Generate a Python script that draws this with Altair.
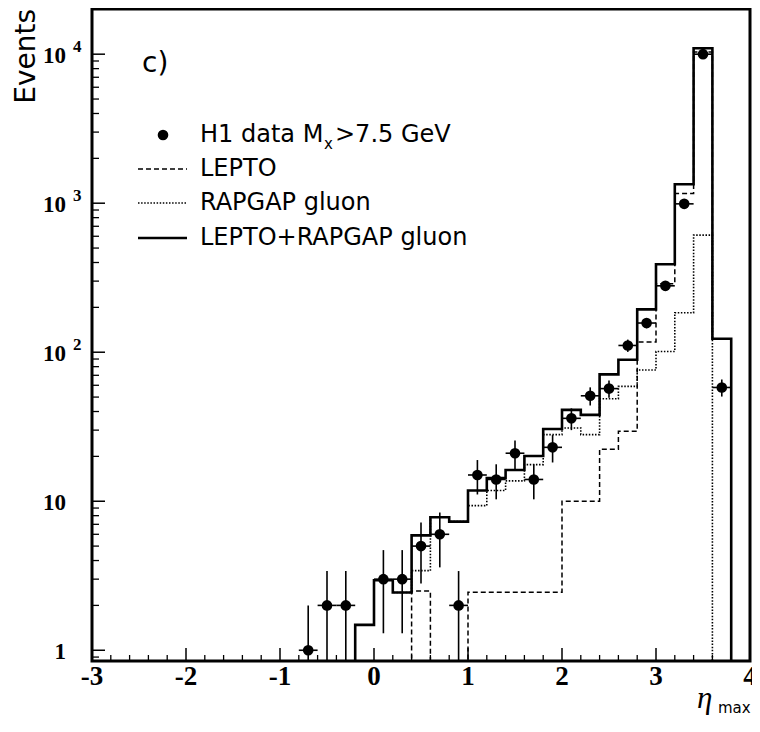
import altair as alt
import pandas as pd

# ---------------- data ----------------
bin_lo = [-0.4, -0.2, 0.0, 0.2, 0.4, 0.6, 0.8, 1.0, 1.2, 1.4, 1.6,
          1.8, 2.0, 2.2, 2.4, 2.6, 2.8, 3.0, 3.2, 3.4, 3.6, 3.8]
bin_width = 0.2

# LEPTO + RAPGAP gluon (solid)
lepto_rapgap = [0, 1.48, 2.95, 2.44, 5.9, 7.8, 7.3, 11.8, 14.3, 16.2, 20.1,
                30.5, 41, 38, 71, 89, 194, 389, 1340, 10960, 123, 0]
# LEPTO (dashed)
lepto = [0, 0, 0, 0, 2.5, 0, 0, 2.45, 2.45, 2.45, 2.45,
         2.45, 10, 10, 22.3, 29.5, 117, 288, 1160, 10350, 123, 0]
# RAPGAP gluon (dotted)
rapgap = [0, 1.48, 2.95, 2.44, 3.42, 7.8, 7.3, 9.35, 11.8, 13.7, 17.6,
          28, 31, 28, 48.7, 59, 76, 101, 184, 611, 0, 0]

# H1 data
data_x = [-0.7, -0.5, -0.3, 0.1, 0.3, 0.5, 0.7, 0.9, 1.1, 1.3, 1.5,
          1.7, 1.9, 2.1, 2.3, 2.5, 2.7, 2.9, 3.1, 3.3, 3.5, 3.7]
data_y = [1, 2, 2, 3, 3, 5, 6, 2, 15, 14, 21,
          14, 23, 36, 51, 57, 111, 157, 279, 990, 10000, 58]
data_err = [1.0, 1.4, 1.4, 1.7, 1.7, 2.2, 2.4, 1.4, 3.9, 3.7, 4.6,
            3.7, 4.8, 6.0, 7.1, 7.5, 10.5, 12.5, 16.7, 31.5, 100, 7.6]

legend_labels = ["H1 data M", "x", ">7.5 GeV", "LEPTO", "RAPGAP gluon", "LEPTO+RAPGAP gluon"]
x_tick_values = [-3, -2, -1, 0, 1, 2, 3, 4]
x_tick_labels = ["-3", "-2", "-1", "0", "1", "2", "3", "4"]
y_tick_values = [1, 10, 100, 1000, 10000]
y_tick_base = ["1", "10", "10", "10", "10"]
y_tick_exp = ["", "", "2", "3", "4"]

# ---------------- layout ----------------
W, H = 658, 652
FLOOR = 0.1
xs = alt.Scale(domain=[-3, 4], nice=False, zero=False)
ys = alt.Scale(type="log", domain=[0.847, 20100], nice=False)

SANS = "DejaVu Sans"
SERIF = "Liberation Serif"


def steps(values):
    rows = []
    o = 0
    for lo, v in zip(bin_lo, values):
        vv = v if v > 0 else FLOOR
        rows.append({"x": lo, "y": vv, "o": o}); o += 1
        rows.append({"x": round(lo + bin_width, 3), "y": vv, "o": o}); o += 1
    return pd.DataFrame(rows)


def hist(values, **style):
    return alt.Chart(steps(values)).mark_line(
        color="black", clip=True, interpolate="linear", strokeCap="butt", strokeJoin="miter", **style
    ).encode(
        x=alt.X("x:Q", scale=xs, axis=None),
        y=alt.Y("y:Q", scale=ys, axis=None),
        order=alt.Order("o:Q"),
    )


dotted = hist(rapgap, strokeWidth=1.6, strokeDash=[1.5, 1.6])
dashed = hist(lepto, strokeWidth=1.5, strokeDash=[5, 3])
solid = hist(lepto_rapgap, strokeWidth=2.6)

pts_df = pd.DataFrame({
    "x": data_x,
    "y": data_y,
    "ylo": [max(y - e, FLOOR) for y, e in zip(data_y, data_err)],
    "yhi": [y + e for y, e in zip(data_y, data_err)],
    "xlo": [x - bin_width / 2 for x in data_x],
    "xhi": [x + bin_width / 2 for x in data_x],
})
vbar = alt.Chart(pts_df).mark_rule(color="black", strokeWidth=1.6, clip=True).encode(
    x=alt.X("x:Q", scale=xs, axis=None),
    y=alt.Y("ylo:Q", scale=ys, axis=None),
    y2="yhi:Q",
)
hbar = alt.Chart(pts_df).mark_rule(color="black", strokeWidth=1.6, clip=True).encode(
    x=alt.X("xlo:Q", scale=xs, axis=None),
    x2="xhi:Q",
    y=alt.Y("y:Q", scale=ys, axis=None),
)
pts = alt.Chart(pts_df).mark_circle(color="black", opacity=1, size=113, clip=True).encode(
    x=alt.X("x:Q", scale=xs, axis=None),
    y=alt.Y("y:Q", scale=ys, axis=None),
)

# ---------------- inward ticks ----------------
y_minor = [0.9] + [m * 10 ** e for e in range(0, 4) for m in range(2, 10)]
x_minor = [round(-3 + 0.2 * i, 2) for i in range(36)]
x_minor = [v for v in x_minor if abs(v - round(v)) > 1e-6]

ymaj = alt.Chart(pd.DataFrame({"v": y_tick_values})).mark_rule(color="black", strokeWidth=1.5).encode(
    y=alt.Y("v:Q", scale=ys, axis=None), x=alt.value(0), x2=alt.value(13))
ymin = alt.Chart(pd.DataFrame({"v": y_minor})).mark_rule(color="black", strokeWidth=1.3).encode(
    y=alt.Y("v:Q", scale=ys, axis=None), x=alt.value(0), x2=alt.value(7))
xmaj = alt.Chart(pd.DataFrame({"v": x_tick_values})).mark_rule(color="black", strokeWidth=1.5).encode(
    x=alt.X("v:Q", scale=xs, axis=None), y=alt.value(H), y2=alt.value(H - 13))
xmin = alt.Chart(pd.DataFrame({"v": x_minor})).mark_rule(color="black", strokeWidth=1.3).encode(
    x=alt.X("v:Q", scale=xs, axis=None), y=alt.value(H), y2=alt.value(H - 6))

# ---------------- tick labels ----------------
ylab_df = pd.DataFrame({"v": y_tick_values, "b": y_tick_base, "e": y_tick_exp})
ylab = alt.Chart(ylab_df).mark_text(
    align="right", baseline="alphabetic", dy=9, font=SERIF, fontWeight="bold", fontSize=23, color="black"
).encode(y=alt.Y("v:Q", scale=ys, axis=None), x=alt.value(-26), text="b:N")
yexp = alt.Chart(ylab_df).mark_text(
    align="left", baseline="alphabetic", dy=-2, font=SERIF, fontWeight="bold", fontSize=17, color="black"
).encode(y=alt.Y("v:Q", scale=ys, axis=None), x=alt.value(-19), text="e:N")

xlab = alt.Chart(pd.DataFrame({"v": x_tick_values, "t": x_tick_labels})).mark_text(
    align="center", baseline="alphabetic", font=SERIF, fontWeight="bold", fontSize=27, color="black"
).encode(x=alt.X("v:Q", scale=xs, axis=None), y=alt.value(H + 24), text="t:N")


# ---------------- annotations ----------------
def label(text, x, y, size, font=SANS, align="left", baseline="alphabetic", **kw):
    return alt.Chart(pd.DataFrame({"t": [text]})).mark_text(
        align=align, baseline=baseline, font=font, fontSize=size, color="black", **kw
    ).encode(x=alt.value(x), y=alt.value(y), text="t:N")


events = label("Events", -57, 0, 28, align="right", angle=270)
cpanel = label("c)", 50, 63, 28)
eta = label("η", 605, 699, 31, font=SERIF, fontStyle="italic")
etamax = label("max", 626, 704, 15)

row_y = [126, 160, 194, 229]
leg_dot = alt.Chart(pd.DataFrame({"k": [0]})).mark_circle(color="black", opacity=1, size=113).encode(
    x=alt.value(71), y=alt.value(row_y[0]))


def leg_line(y, **style):
    return alt.Chart(pd.DataFrame({"k": [0]})).mark_rule(color="black", strokeCap="butt", **style).encode(
        x=alt.value(46), x2=alt.value(95), y=alt.value(y))


leg_l1 = leg_line(row_y[1], strokeWidth=1.5, strokeDash=[5, 3])
leg_l2 = leg_line(row_y[2], strokeWidth=1.6, strokeDash=[1.5, 1.6])
leg_l3 = leg_line(row_y[3], strokeWidth=2.6)

leg_t0a = label(legend_labels[0], 108, row_y[0], 24, baseline="middle")
leg_t0b = label(legend_labels[1], 232, row_y[0] + 9, 15, baseline="middle")
leg_t0c = label(legend_labels[2], 243, row_y[0], 24, baseline="middle")
leg_t1 = label(legend_labels[3], 108, row_y[1], 24, baseline="middle")
leg_t2 = label(legend_labels[4], 108, row_y[2], 24, baseline="middle")
leg_t3 = label(legend_labels[5], 108, row_y[3], 24, baseline="middle")

chart = alt.layer(
    dotted, dashed, solid, vbar, hbar, pts,
    ymaj, ymin, xmaj, xmin, ylab, yexp, xlab,
    events, cpanel, eta, etamax,
    leg_dot, leg_l1, leg_l2, leg_l3,
    leg_t0a, leg_t0b, leg_t0c, leg_t1, leg_t2, leg_t3,
).properties(
    width=W, height=H,
    autosize=alt.AutoSizeParams(type="none"),
    padding={"left": 84, "top": 1, "right": 2, "bottom": 55},
    background="white",
).configure_view(stroke="black", strokeWidth=3)

chart.save("out.html", embed_options={"renderer": "svg", "actions": False})
